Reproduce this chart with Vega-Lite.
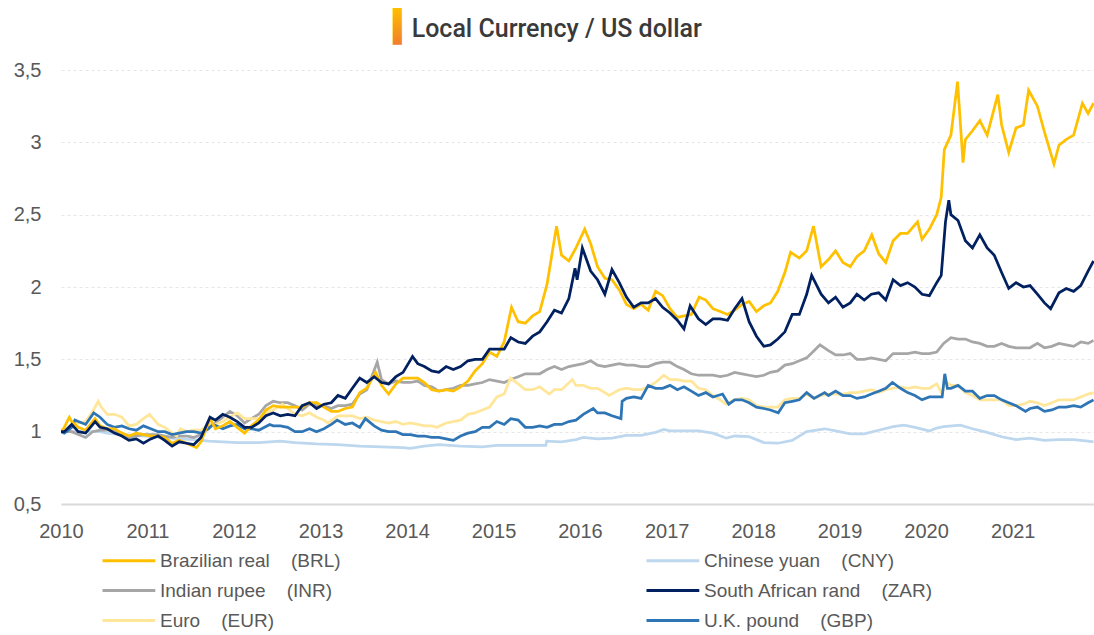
{
"$schema":"https://vega.github.io/schema/vega-lite/v6.json",
"width":1033,"height":434,
"autosize":{"type":"none"},
"padding":{"left":61,"top":70,"right":0,"bottom":131},
"background":"white",
"title":{"text":"▍","subtitle":"\u200b\u00a0\u00a0\u00a0Local Currency / US dollar","anchor":"start","frame":"group","dx":332,"offset":16,"font":"DejaVu Sans","fontSize":31,"fontWeight":"normal","color":{"value":{"gradient":"linear","x1":0,"y1":0,"x2":0,"y2":1,"stops":[{"offset":0,"color":"#FFC000"},{"offset":1,"color":"#F07D2E"}]}},"subtitleFont":"Roboto","subtitleFontSize":25,"subtitleFontWeight":500,"subtitleColor":"#3A3A3A","subtitlePadding":-27},
"data":{"values":[
{"s":"CNY","d":"2010-01-01","v":1.0},{"s":"CNY","d":"2010-06-15","v":1.0},{"s":"CNY","d":"2010-07-15","v":0.99},{"s":"CNY","d":"2010-09-15","v":0.98},{"s":"CNY","d":"2010-11-15","v":0.975},{"s":"CNY","d":"2011-01-15","v":0.965},{"s":"CNY","d":"2011-03-15","v":0.96},{"s":"CNY","d":"2011-05-15","v":0.95},{"s":"CNY","d":"2011-07-15","v":0.945},{"s":"CNY","d":"2011-09-15","v":0.935},{"s":"CNY","d":"2011-11-15","v":0.93},{"s":"CNY","d":"2012-01-15","v":0.925},{"s":"CNY","d":"2012-04-15","v":0.925},{"s":"CNY","d":"2012-07-15","v":0.935},{"s":"CNY","d":"2012-09-15","v":0.925},{"s":"CNY","d":"2012-12-15","v":0.915},{"s":"CNY","d":"2013-03-15","v":0.91},{"s":"CNY","d":"2013-06-15","v":0.9},{"s":"CNY","d":"2013-09-15","v":0.895},{"s":"CNY","d":"2013-12-15","v":0.89},{"s":"CNY","d":"2014-01-15","v":0.885},{"s":"CNY","d":"2014-03-15","v":0.9},{"s":"CNY","d":"2014-05-15","v":0.91},{"s":"CNY","d":"2014-08-15","v":0.9},{"s":"CNY","d":"2014-11-15","v":0.895},{"s":"CNY","d":"2015-01-15","v":0.905},{"s":"CNY","d":"2015-04-15","v":0.905},{"s":"CNY","d":"2015-08-10","v":0.905},{"s":"CNY","d":"2015-08-13","v":0.935},{"s":"CNY","d":"2015-10-15","v":0.93},{"s":"CNY","d":"2015-12-15","v":0.945},{"s":"CNY","d":"2016-01-15","v":0.96},{"s":"CNY","d":"2016-03-15","v":0.95},{"s":"CNY","d":"2016-05-15","v":0.955},{"s":"CNY","d":"2016-07-15","v":0.975},{"s":"CNY","d":"2016-09-15","v":0.975},{"s":"CNY","d":"2016-11-15","v":0.995},{"s":"CNY","d":"2016-12-20","v":1.015},{"s":"CNY","d":"2017-01-15","v":1.005},{"s":"CNY","d":"2017-03-15","v":1.005},{"s":"CNY","d":"2017-05-15","v":1.005},{"s":"CNY","d":"2017-07-15","v":0.99},{"s":"CNY","d":"2017-09-10","v":0.955},{"s":"CNY","d":"2017-10-15","v":0.97},{"s":"CNY","d":"2017-12-15","v":0.965},{"s":"CNY","d":"2018-02-15","v":0.925},{"s":"CNY","d":"2018-04-15","v":0.92},{"s":"CNY","d":"2018-06-15","v":0.94},{"s":"CNY","d":"2018-08-15","v":1.0},{"s":"CNY","d":"2018-10-30","v":1.02},{"s":"CNY","d":"2018-12-15","v":1.005},{"s":"CNY","d":"2019-02-15","v":0.985},{"s":"CNY","d":"2019-04-15","v":0.985},{"s":"CNY","d":"2019-06-15","v":1.01},{"s":"CNY","d":"2019-08-15","v":1.035},{"s":"CNY","d":"2019-09-30","v":1.045},{"s":"CNY","d":"2019-11-15","v":1.03},{"s":"CNY","d":"2020-01-15","v":1.005},{"s":"CNY","d":"2020-02-15","v":1.025},{"s":"CNY","d":"2020-03-15","v":1.035},{"s":"CNY","d":"2020-05-25","v":1.045},{"s":"CNY","d":"2020-07-15","v":1.02},{"s":"CNY","d":"2020-09-15","v":0.995},{"s":"CNY","d":"2020-11-15","v":0.965},{"s":"CNY","d":"2021-01-15","v":0.945},{"s":"CNY","d":"2021-03-15","v":0.955},{"s":"CNY","d":"2021-05-15","v":0.94},{"s":"CNY","d":"2021-07-15","v":0.945},{"s":"CNY","d":"2021-09-15","v":0.945},{"s":"CNY","d":"2021-11-15","v":0.935},{"s":"CNY","d":"2021-12-08","v":0.93},
{"s":"INR","d":"2010-01-01","v":1.0},{"s":"INR","d":"2010-01-15","v":1.0},{"s":"INR","d":"2010-02-15","v":1.0},{"s":"INR","d":"2010-03-15","v":0.98},{"s":"INR","d":"2010-04-15","v":0.96},{"s":"INR","d":"2010-05-15","v":1.0},{"s":"INR","d":"2010-06-15","v":1.01},{"s":"INR","d":"2010-07-15","v":1.01},{"s":"INR","d":"2010-08-15","v":1.01},{"s":"INR","d":"2010-09-15","v":0.99},{"s":"INR","d":"2010-10-15","v":0.96},{"s":"INR","d":"2010-11-15","v":0.97},{"s":"INR","d":"2010-12-15","v":0.98},{"s":"INR","d":"2011-01-15","v":0.98},{"s":"INR","d":"2011-02-15","v":0.98},{"s":"INR","d":"2011-03-15","v":0.97},{"s":"INR","d":"2011-04-15","v":0.96},{"s":"INR","d":"2011-05-15","v":0.97},{"s":"INR","d":"2011-06-15","v":0.97},{"s":"INR","d":"2011-07-15","v":0.96},{"s":"INR","d":"2011-08-15","v":0.98},{"s":"INR","d":"2011-09-15","v":1.03},{"s":"INR","d":"2011-10-15","v":1.06},{"s":"INR","d":"2011-11-15","v":1.1},{"s":"INR","d":"2011-12-15","v":1.14},{"s":"INR","d":"2012-01-15","v":1.11},{"s":"INR","d":"2012-02-15","v":1.06},{"s":"INR","d":"2012-03-15","v":1.09},{"s":"INR","d":"2012-04-15","v":1.12},{"s":"INR","d":"2012-05-15","v":1.18},{"s":"INR","d":"2012-06-15","v":1.21},{"s":"INR","d":"2012-07-15","v":1.2},{"s":"INR","d":"2012-08-15","v":1.2},{"s":"INR","d":"2012-09-15","v":1.18},{"s":"INR","d":"2012-10-15","v":1.15},{"s":"INR","d":"2012-11-15","v":1.19},{"s":"INR","d":"2012-12-15","v":1.18},{"s":"INR","d":"2013-01-15","v":1.18},{"s":"INR","d":"2013-02-15","v":1.16},{"s":"INR","d":"2013-03-15","v":1.18},{"s":"INR","d":"2013-04-15","v":1.18},{"s":"INR","d":"2013-05-15","v":1.19},{"s":"INR","d":"2013-06-15","v":1.26},{"s":"INR","d":"2013-07-15","v":1.29},{"s":"INR","d":"2013-08-28","v":1.48},{"s":"INR","d":"2013-09-15","v":1.36},{"s":"INR","d":"2013-10-15","v":1.33},{"s":"INR","d":"2013-11-15","v":1.35},{"s":"INR","d":"2013-12-15","v":1.34},{"s":"INR","d":"2014-01-15","v":1.34},{"s":"INR","d":"2014-02-15","v":1.35},{"s":"INR","d":"2014-03-15","v":1.32},{"s":"INR","d":"2014-04-15","v":1.31},{"s":"INR","d":"2014-05-15","v":1.28},{"s":"INR","d":"2014-06-15","v":1.29},{"s":"INR","d":"2014-07-15","v":1.3},{"s":"INR","d":"2014-08-15","v":1.32},{"s":"INR","d":"2014-09-15","v":1.32},{"s":"INR","d":"2014-10-15","v":1.33},{"s":"INR","d":"2014-11-15","v":1.34},{"s":"INR","d":"2014-12-15","v":1.36},{"s":"INR","d":"2015-01-15","v":1.35},{"s":"INR","d":"2015-02-15","v":1.34},{"s":"INR","d":"2015-03-15","v":1.36},{"s":"INR","d":"2015-04-15","v":1.38},{"s":"INR","d":"2015-05-15","v":1.4},{"s":"INR","d":"2015-06-15","v":1.4},{"s":"INR","d":"2015-07-15","v":1.4},{"s":"INR","d":"2015-08-15","v":1.43},{"s":"INR","d":"2015-09-15","v":1.45},{"s":"INR","d":"2015-10-15","v":1.43},{"s":"INR","d":"2015-11-15","v":1.45},{"s":"INR","d":"2015-12-15","v":1.46},{"s":"INR","d":"2016-01-15","v":1.47},{"s":"INR","d":"2016-02-15","v":1.49},{"s":"INR","d":"2016-03-15","v":1.46},{"s":"INR","d":"2016-04-15","v":1.45},{"s":"INR","d":"2016-05-15","v":1.46},{"s":"INR","d":"2016-06-15","v":1.47},{"s":"INR","d":"2016-07-15","v":1.46},{"s":"INR","d":"2016-08-15","v":1.46},{"s":"INR","d":"2016-09-15","v":1.45},{"s":"INR","d":"2016-10-15","v":1.45},{"s":"INR","d":"2016-11-15","v":1.47},{"s":"INR","d":"2016-12-15","v":1.48},{"s":"INR","d":"2017-01-15","v":1.48},{"s":"INR","d":"2017-02-15","v":1.45},{"s":"INR","d":"2017-03-15","v":1.43},{"s":"INR","d":"2017-04-15","v":1.4},{"s":"INR","d":"2017-05-15","v":1.39},{"s":"INR","d":"2017-06-15","v":1.39},{"s":"INR","d":"2017-07-15","v":1.39},{"s":"INR","d":"2017-08-15","v":1.38},{"s":"INR","d":"2017-09-15","v":1.39},{"s":"INR","d":"2017-10-15","v":1.41},{"s":"INR","d":"2017-11-15","v":1.4},{"s":"INR","d":"2017-12-15","v":1.39},{"s":"INR","d":"2018-01-15","v":1.38},{"s":"INR","d":"2018-02-15","v":1.39},{"s":"INR","d":"2018-03-15","v":1.41},{"s":"INR","d":"2018-04-15","v":1.42},{"s":"INR","d":"2018-05-15","v":1.46},{"s":"INR","d":"2018-06-15","v":1.47},{"s":"INR","d":"2018-07-15","v":1.49},{"s":"INR","d":"2018-08-15","v":1.51},{"s":"INR","d":"2018-09-15","v":1.56},{"s":"INR","d":"2018-10-10","v":1.6},{"s":"INR","d":"2018-11-15","v":1.56},{"s":"INR","d":"2018-12-15","v":1.53},{"s":"INR","d":"2019-01-15","v":1.53},{"s":"INR","d":"2019-02-15","v":1.54},{"s":"INR","d":"2019-03-15","v":1.5},{"s":"INR","d":"2019-04-15","v":1.5},{"s":"INR","d":"2019-05-15","v":1.51},{"s":"INR","d":"2019-06-15","v":1.5},{"s":"INR","d":"2019-07-15","v":1.49},{"s":"INR","d":"2019-08-15","v":1.54},{"s":"INR","d":"2019-09-15","v":1.54},{"s":"INR","d":"2019-10-15","v":1.54},{"s":"INR","d":"2019-11-15","v":1.55},{"s":"INR","d":"2019-12-15","v":1.54},{"s":"INR","d":"2020-01-15","v":1.54},{"s":"INR","d":"2020-02-15","v":1.55},{"s":"INR","d":"2020-03-15","v":1.61},{"s":"INR","d":"2020-04-15","v":1.65},{"s":"INR","d":"2020-05-15","v":1.64},{"s":"INR","d":"2020-06-15","v":1.64},{"s":"INR","d":"2020-07-15","v":1.62},{"s":"INR","d":"2020-08-15","v":1.61},{"s":"INR","d":"2020-09-15","v":1.59},{"s":"INR","d":"2020-10-15","v":1.59},{"s":"INR","d":"2020-11-15","v":1.61},{"s":"INR","d":"2020-12-15","v":1.59},{"s":"INR","d":"2021-01-15","v":1.58},{"s":"INR","d":"2021-02-15","v":1.58},{"s":"INR","d":"2021-03-15","v":1.58},{"s":"INR","d":"2021-04-15","v":1.61},{"s":"INR","d":"2021-05-15","v":1.58},{"s":"INR","d":"2021-06-15","v":1.59},{"s":"INR","d":"2021-07-15","v":1.61},{"s":"INR","d":"2021-08-15","v":1.6},{"s":"INR","d":"2021-09-15","v":1.59},{"s":"INR","d":"2021-10-15","v":1.62},{"s":"INR","d":"2021-11-15","v":1.61},{"s":"INR","d":"2021-12-08","v":1.63},
{"s":"EUR","d":"2010-01-01","v":1.0},{"s":"EUR","d":"2010-01-15","v":1.0},{"s":"EUR","d":"2010-02-15","v":1.05},{"s":"EUR","d":"2010-03-15","v":1.06},{"s":"EUR","d":"2010-04-15","v":1.07},{"s":"EUR","d":"2010-05-15","v":1.14},{"s":"EUR","d":"2010-06-07","v":1.21},{"s":"EUR","d":"2010-06-20","v":1.17},{"s":"EUR","d":"2010-07-15","v":1.12},{"s":"EUR","d":"2010-08-15","v":1.12},{"s":"EUR","d":"2010-09-15","v":1.1},{"s":"EUR","d":"2010-10-15","v":1.04},{"s":"EUR","d":"2010-11-15","v":1.05},{"s":"EUR","d":"2010-12-15","v":1.09},{"s":"EUR","d":"2011-01-10","v":1.12},{"s":"EUR","d":"2011-02-15","v":1.05},{"s":"EUR","d":"2011-03-15","v":1.03},{"s":"EUR","d":"2011-04-15","v":0.99},{"s":"EUR","d":"2011-05-04","v":0.97},{"s":"EUR","d":"2011-05-20","v":1.02},{"s":"EUR","d":"2011-06-15","v":1.0},{"s":"EUR","d":"2011-07-15","v":1.01},{"s":"EUR","d":"2011-08-15","v":1.01},{"s":"EUR","d":"2011-09-15","v":1.05},{"s":"EUR","d":"2011-10-15","v":1.05},{"s":"EUR","d":"2011-11-15","v":1.07},{"s":"EUR","d":"2011-12-15","v":1.1},{"s":"EUR","d":"2012-01-15","v":1.13},{"s":"EUR","d":"2012-02-15","v":1.09},{"s":"EUR","d":"2012-03-15","v":1.09},{"s":"EUR","d":"2012-04-15","v":1.09},{"s":"EUR","d":"2012-05-15","v":1.13},{"s":"EUR","d":"2012-06-15","v":1.15},{"s":"EUR","d":"2012-07-24","v":1.19},{"s":"EUR","d":"2012-08-15","v":1.16},{"s":"EUR","d":"2012-09-15","v":1.12},{"s":"EUR","d":"2012-10-15","v":1.11},{"s":"EUR","d":"2012-11-15","v":1.13},{"s":"EUR","d":"2012-12-15","v":1.1},{"s":"EUR","d":"2013-01-15","v":1.08},{"s":"EUR","d":"2013-02-01","v":1.06},{"s":"EUR","d":"2013-03-15","v":1.11},{"s":"EUR","d":"2013-04-15","v":1.11},{"s":"EUR","d":"2013-05-15","v":1.11},{"s":"EUR","d":"2013-06-15","v":1.09},{"s":"EUR","d":"2013-07-15","v":1.1},{"s":"EUR","d":"2013-08-15","v":1.08},{"s":"EUR","d":"2013-09-15","v":1.07},{"s":"EUR","d":"2013-10-15","v":1.06},{"s":"EUR","d":"2013-11-15","v":1.07},{"s":"EUR","d":"2013-12-15","v":1.05},{"s":"EUR","d":"2014-01-15","v":1.06},{"s":"EUR","d":"2014-02-15","v":1.05},{"s":"EUR","d":"2014-03-15","v":1.04},{"s":"EUR","d":"2014-04-15","v":1.04},{"s":"EUR","d":"2014-05-08","v":1.03},{"s":"EUR","d":"2014-06-15","v":1.06},{"s":"EUR","d":"2014-07-15","v":1.07},{"s":"EUR","d":"2014-08-15","v":1.08},{"s":"EUR","d":"2014-09-15","v":1.12},{"s":"EUR","d":"2014-10-15","v":1.13},{"s":"EUR","d":"2014-11-15","v":1.15},{"s":"EUR","d":"2014-12-15","v":1.17},{"s":"EUR","d":"2015-01-15","v":1.24},{"s":"EUR","d":"2015-02-15","v":1.26},{"s":"EUR","d":"2015-03-13","v":1.37},{"s":"EUR","d":"2015-04-15","v":1.33},{"s":"EUR","d":"2015-05-15","v":1.29},{"s":"EUR","d":"2015-06-15","v":1.29},{"s":"EUR","d":"2015-07-15","v":1.31},{"s":"EUR","d":"2015-08-24","v":1.26},{"s":"EUR","d":"2015-09-15","v":1.29},{"s":"EUR","d":"2015-10-15","v":1.29},{"s":"EUR","d":"2015-11-30","v":1.36},{"s":"EUR","d":"2015-12-15","v":1.32},{"s":"EUR","d":"2016-01-15","v":1.32},{"s":"EUR","d":"2016-02-15","v":1.3},{"s":"EUR","d":"2016-03-15","v":1.3},{"s":"EUR","d":"2016-04-15","v":1.27},{"s":"EUR","d":"2016-05-03","v":1.25},{"s":"EUR","d":"2016-06-15","v":1.29},{"s":"EUR","d":"2016-07-15","v":1.3},{"s":"EUR","d":"2016-08-15","v":1.29},{"s":"EUR","d":"2016-09-15","v":1.29},{"s":"EUR","d":"2016-10-15","v":1.31},{"s":"EUR","d":"2016-11-15","v":1.34},{"s":"EUR","d":"2016-12-20","v":1.39},{"s":"EUR","d":"2017-01-15","v":1.36},{"s":"EUR","d":"2017-02-15","v":1.36},{"s":"EUR","d":"2017-03-15","v":1.35},{"s":"EUR","d":"2017-04-15","v":1.35},{"s":"EUR","d":"2017-05-15","v":1.3},{"s":"EUR","d":"2017-06-15","v":1.29},{"s":"EUR","d":"2017-07-15","v":1.25},{"s":"EUR","d":"2017-08-15","v":1.22},{"s":"EUR","d":"2017-09-08","v":1.19},{"s":"EUR","d":"2017-10-15","v":1.22},{"s":"EUR","d":"2017-11-15","v":1.23},{"s":"EUR","d":"2017-12-15","v":1.22},{"s":"EUR","d":"2018-01-15","v":1.18},{"s":"EUR","d":"2018-02-15","v":1.17},{"s":"EUR","d":"2018-03-15","v":1.17},{"s":"EUR","d":"2018-04-15","v":1.17},{"s":"EUR","d":"2018-05-15","v":1.22},{"s":"EUR","d":"2018-06-15","v":1.23},{"s":"EUR","d":"2018-07-15","v":1.23},{"s":"EUR","d":"2018-08-15","v":1.26},{"s":"EUR","d":"2018-09-15","v":1.23},{"s":"EUR","d":"2018-10-15","v":1.25},{"s":"EUR","d":"2018-11-15","v":1.26},{"s":"EUR","d":"2018-12-15","v":1.26},{"s":"EUR","d":"2019-01-15","v":1.26},{"s":"EUR","d":"2019-02-15","v":1.27},{"s":"EUR","d":"2019-03-15","v":1.27},{"s":"EUR","d":"2019-04-15","v":1.28},{"s":"EUR","d":"2019-05-15","v":1.29},{"s":"EUR","d":"2019-06-15","v":1.27},{"s":"EUR","d":"2019-07-15","v":1.29},{"s":"EUR","d":"2019-08-15","v":1.3},{"s":"EUR","d":"2019-09-15","v":1.31},{"s":"EUR","d":"2019-10-15","v":1.3},{"s":"EUR","d":"2019-11-15","v":1.31},{"s":"EUR","d":"2019-12-15","v":1.3},{"s":"EUR","d":"2020-01-15","v":1.3},{"s":"EUR","d":"2020-02-15","v":1.33},{"s":"EUR","d":"2020-03-09","v":1.26},{"s":"EUR","d":"2020-03-20","v":1.35},{"s":"EUR","d":"2020-04-15","v":1.32},{"s":"EUR","d":"2020-05-15","v":1.32},{"s":"EUR","d":"2020-06-15","v":1.27},{"s":"EUR","d":"2020-07-15","v":1.25},{"s":"EUR","d":"2020-08-15","v":1.22},{"s":"EUR","d":"2020-09-15","v":1.22},{"s":"EUR","d":"2020-10-15","v":1.22},{"s":"EUR","d":"2020-11-15","v":1.22},{"s":"EUR","d":"2020-12-15","v":1.18},{"s":"EUR","d":"2021-01-15","v":1.18},{"s":"EUR","d":"2021-02-15","v":1.19},{"s":"EUR","d":"2021-03-15","v":1.21},{"s":"EUR","d":"2021-04-15","v":1.2},{"s":"EUR","d":"2021-05-15","v":1.18},{"s":"EUR","d":"2021-06-15","v":1.2},{"s":"EUR","d":"2021-07-15","v":1.22},{"s":"EUR","d":"2021-08-15","v":1.22},{"s":"EUR","d":"2021-09-15","v":1.22},{"s":"EUR","d":"2021-10-15","v":1.24},{"s":"EUR","d":"2021-11-15","v":1.26},{"s":"EUR","d":"2021-12-08","v":1.27},
{"s":"GBP","d":"2010-01-01","v":1.0},{"s":"GBP","d":"2010-01-15","v":0.99},{"s":"GBP","d":"2010-02-15","v":1.03},{"s":"GBP","d":"2010-03-01","v":1.08},{"s":"GBP","d":"2010-03-15","v":1.07},{"s":"GBP","d":"2010-04-15","v":1.05},{"s":"GBP","d":"2010-05-19","v":1.13},{"s":"GBP","d":"2010-06-15","v":1.1},{"s":"GBP","d":"2010-07-15","v":1.05},{"s":"GBP","d":"2010-08-15","v":1.03},{"s":"GBP","d":"2010-09-15","v":1.04},{"s":"GBP","d":"2010-10-15","v":1.02},{"s":"GBP","d":"2010-11-15","v":1.01},{"s":"GBP","d":"2010-12-15","v":1.04},{"s":"GBP","d":"2011-01-15","v":1.02},{"s":"GBP","d":"2011-02-15","v":1.0},{"s":"GBP","d":"2011-03-15","v":1.0},{"s":"GBP","d":"2011-04-15","v":0.98},{"s":"GBP","d":"2011-05-15","v":0.99},{"s":"GBP","d":"2011-06-15","v":1.0},{"s":"GBP","d":"2011-07-15","v":1.0},{"s":"GBP","d":"2011-08-15","v":0.99},{"s":"GBP","d":"2011-09-15","v":1.02},{"s":"GBP","d":"2011-10-05","v":1.05},{"s":"GBP","d":"2011-11-15","v":1.02},{"s":"GBP","d":"2011-12-15","v":1.04},{"s":"GBP","d":"2012-01-15","v":1.05},{"s":"GBP","d":"2012-02-15","v":1.02},{"s":"GBP","d":"2012-03-15","v":1.02},{"s":"GBP","d":"2012-04-15","v":1.01},{"s":"GBP","d":"2012-05-31","v":1.05},{"s":"GBP","d":"2012-06-15","v":1.04},{"s":"GBP","d":"2012-07-15","v":1.04},{"s":"GBP","d":"2012-08-15","v":1.03},{"s":"GBP","d":"2012-09-15","v":1.0},{"s":"GBP","d":"2012-10-15","v":1.0},{"s":"GBP","d":"2012-11-15","v":1.02},{"s":"GBP","d":"2012-12-15","v":1.0},{"s":"GBP","d":"2013-01-15","v":1.02},{"s":"GBP","d":"2013-02-15","v":1.05},{"s":"GBP","d":"2013-03-12","v":1.08},{"s":"GBP","d":"2013-04-15","v":1.05},{"s":"GBP","d":"2013-05-15","v":1.06},{"s":"GBP","d":"2013-06-15","v":1.03},{"s":"GBP","d":"2013-07-09","v":1.09},{"s":"GBP","d":"2013-08-15","v":1.04},{"s":"GBP","d":"2013-09-15","v":1.01},{"s":"GBP","d":"2013-10-15","v":1.0},{"s":"GBP","d":"2013-11-15","v":1.0},{"s":"GBP","d":"2013-12-15","v":0.98},{"s":"GBP","d":"2014-01-15","v":0.98},{"s":"GBP","d":"2014-02-15","v":0.97},{"s":"GBP","d":"2014-03-15","v":0.97},{"s":"GBP","d":"2014-04-15","v":0.96},{"s":"GBP","d":"2014-05-15","v":0.96},{"s":"GBP","d":"2014-06-15","v":0.95},{"s":"GBP","d":"2014-07-15","v":0.94},{"s":"GBP","d":"2014-08-15","v":0.97},{"s":"GBP","d":"2014-09-15","v":0.99},{"s":"GBP","d":"2014-10-15","v":1.0},{"s":"GBP","d":"2014-11-15","v":1.03},{"s":"GBP","d":"2014-12-15","v":1.03},{"s":"GBP","d":"2015-01-15","v":1.07},{"s":"GBP","d":"2015-02-15","v":1.05},{"s":"GBP","d":"2015-03-15","v":1.09},{"s":"GBP","d":"2015-04-15","v":1.08},{"s":"GBP","d":"2015-05-15","v":1.03},{"s":"GBP","d":"2015-06-15","v":1.03},{"s":"GBP","d":"2015-07-15","v":1.04},{"s":"GBP","d":"2015-08-15","v":1.03},{"s":"GBP","d":"2015-09-15","v":1.05},{"s":"GBP","d":"2015-10-15","v":1.05},{"s":"GBP","d":"2015-11-15","v":1.07},{"s":"GBP","d":"2015-12-15","v":1.08},{"s":"GBP","d":"2016-01-15","v":1.12},{"s":"GBP","d":"2016-02-26","v":1.16},{"s":"GBP","d":"2016-03-15","v":1.13},{"s":"GBP","d":"2016-04-15","v":1.13},{"s":"GBP","d":"2016-05-15","v":1.11},{"s":"GBP","d":"2016-06-22","v":1.09},{"s":"GBP","d":"2016-06-27","v":1.21},{"s":"GBP","d":"2016-07-15","v":1.23},{"s":"GBP","d":"2016-08-15","v":1.24},{"s":"GBP","d":"2016-09-15","v":1.23},{"s":"GBP","d":"2016-10-15","v":1.32},{"s":"GBP","d":"2016-11-15","v":1.3},{"s":"GBP","d":"2016-12-15","v":1.3},{"s":"GBP","d":"2017-01-15","v":1.32},{"s":"GBP","d":"2017-02-15","v":1.29},{"s":"GBP","d":"2017-03-15","v":1.31},{"s":"GBP","d":"2017-04-15","v":1.28},{"s":"GBP","d":"2017-05-15","v":1.25},{"s":"GBP","d":"2017-06-15","v":1.27},{"s":"GBP","d":"2017-07-15","v":1.24},{"s":"GBP","d":"2017-08-25","v":1.26},{"s":"GBP","d":"2017-09-20","v":1.19},{"s":"GBP","d":"2017-10-15","v":1.22},{"s":"GBP","d":"2017-11-15","v":1.22},{"s":"GBP","d":"2017-12-15","v":1.2},{"s":"GBP","d":"2018-01-15","v":1.17},{"s":"GBP","d":"2018-02-15","v":1.16},{"s":"GBP","d":"2018-03-15","v":1.15},{"s":"GBP","d":"2018-04-17","v":1.13},{"s":"GBP","d":"2018-05-15","v":1.2},{"s":"GBP","d":"2018-06-15","v":1.21},{"s":"GBP","d":"2018-07-15","v":1.22},{"s":"GBP","d":"2018-08-15","v":1.27},{"s":"GBP","d":"2018-09-15","v":1.23},{"s":"GBP","d":"2018-10-30","v":1.27},{"s":"GBP","d":"2018-11-15","v":1.25},{"s":"GBP","d":"2018-12-15","v":1.28},{"s":"GBP","d":"2019-01-15","v":1.25},{"s":"GBP","d":"2019-02-15","v":1.25},{"s":"GBP","d":"2019-03-15","v":1.23},{"s":"GBP","d":"2019-04-15","v":1.24},{"s":"GBP","d":"2019-05-15","v":1.26},{"s":"GBP","d":"2019-06-15","v":1.28},{"s":"GBP","d":"2019-07-15","v":1.3},{"s":"GBP","d":"2019-08-12","v":1.34},{"s":"GBP","d":"2019-09-15","v":1.3},{"s":"GBP","d":"2019-10-15","v":1.27},{"s":"GBP","d":"2019-11-15","v":1.25},{"s":"GBP","d":"2019-12-15","v":1.22},{"s":"GBP","d":"2020-01-15","v":1.24},{"s":"GBP","d":"2020-02-15","v":1.24},{"s":"GBP","d":"2020-03-09","v":1.24},{"s":"GBP","d":"2020-03-20","v":1.4},{"s":"GBP","d":"2020-03-31","v":1.3},{"s":"GBP","d":"2020-04-15","v":1.3},{"s":"GBP","d":"2020-05-15","v":1.32},{"s":"GBP","d":"2020-06-15","v":1.28},{"s":"GBP","d":"2020-07-15","v":1.28},{"s":"GBP","d":"2020-08-15","v":1.23},{"s":"GBP","d":"2020-09-15","v":1.25},{"s":"GBP","d":"2020-10-15","v":1.25},{"s":"GBP","d":"2020-11-15","v":1.22},{"s":"GBP","d":"2020-12-15","v":1.2},{"s":"GBP","d":"2021-01-15","v":1.18},{"s":"GBP","d":"2021-02-24","v":1.14},{"s":"GBP","d":"2021-03-15","v":1.16},{"s":"GBP","d":"2021-04-15","v":1.17},{"s":"GBP","d":"2021-05-15","v":1.14},{"s":"GBP","d":"2021-06-15","v":1.15},{"s":"GBP","d":"2021-07-15","v":1.17},{"s":"GBP","d":"2021-08-15","v":1.17},{"s":"GBP","d":"2021-09-15","v":1.18},{"s":"GBP","d":"2021-10-15","v":1.17},{"s":"GBP","d":"2021-11-15","v":1.2},{"s":"GBP","d":"2021-12-08","v":1.22},
{"s":"BRL","d":"2010-01-01","v":1.0},{"s":"BRL","d":"2010-01-15","v":1.03},{"s":"BRL","d":"2010-02-05","v":1.1},{"s":"BRL","d":"2010-02-15","v":1.07},{"s":"BRL","d":"2010-03-15","v":1.03},{"s":"BRL","d":"2010-04-15","v":1.01},{"s":"BRL","d":"2010-05-25","v":1.09},{"s":"BRL","d":"2010-06-15","v":1.04},{"s":"BRL","d":"2010-07-15","v":1.02},{"s":"BRL","d":"2010-08-15","v":1.02},{"s":"BRL","d":"2010-09-15","v":0.99},{"s":"BRL","d":"2010-10-15","v":0.97},{"s":"BRL","d":"2010-11-15","v":0.99},{"s":"BRL","d":"2010-12-15","v":0.98},{"s":"BRL","d":"2011-01-15","v":0.97},{"s":"BRL","d":"2011-02-15","v":0.97},{"s":"BRL","d":"2011-03-15","v":0.96},{"s":"BRL","d":"2011-04-15","v":0.92},{"s":"BRL","d":"2011-05-15","v":0.94},{"s":"BRL","d":"2011-06-15","v":0.92},{"s":"BRL","d":"2011-07-27","v":0.89},{"s":"BRL","d":"2011-08-15","v":0.93},{"s":"BRL","d":"2011-09-22","v":1.09},{"s":"BRL","d":"2011-10-15","v":1.02},{"s":"BRL","d":"2011-11-15","v":1.04},{"s":"BRL","d":"2011-12-15","v":1.07},{"s":"BRL","d":"2012-01-15","v":1.03},{"s":"BRL","d":"2012-02-15","v":0.99},{"s":"BRL","d":"2012-03-15","v":1.04},{"s":"BRL","d":"2012-04-15","v":1.08},{"s":"BRL","d":"2012-05-15","v":1.15},{"s":"BRL","d":"2012-06-15","v":1.18},{"s":"BRL","d":"2012-07-15","v":1.17},{"s":"BRL","d":"2012-08-15","v":1.17},{"s":"BRL","d":"2012-09-15","v":1.17},{"s":"BRL","d":"2012-10-15","v":1.17},{"s":"BRL","d":"2012-11-15","v":1.2},{"s":"BRL","d":"2012-12-15","v":1.2},{"s":"BRL","d":"2013-01-15","v":1.17},{"s":"BRL","d":"2013-02-15","v":1.14},{"s":"BRL","d":"2013-03-15","v":1.14},{"s":"BRL","d":"2013-04-15","v":1.16},{"s":"BRL","d":"2013-05-15","v":1.17},{"s":"BRL","d":"2013-06-15","v":1.27},{"s":"BRL","d":"2013-07-15","v":1.3},{"s":"BRL","d":"2013-08-21","v":1.41},{"s":"BRL","d":"2013-09-15","v":1.32},{"s":"BRL","d":"2013-10-15","v":1.26},{"s":"BRL","d":"2013-11-15","v":1.33},{"s":"BRL","d":"2013-12-15","v":1.37},{"s":"BRL","d":"2014-01-15","v":1.37},{"s":"BRL","d":"2014-02-15","v":1.37},{"s":"BRL","d":"2014-03-15","v":1.34},{"s":"BRL","d":"2014-04-15","v":1.29},{"s":"BRL","d":"2014-05-15","v":1.28},{"s":"BRL","d":"2014-06-15","v":1.29},{"s":"BRL","d":"2014-07-15","v":1.28},{"s":"BRL","d":"2014-08-15","v":1.31},{"s":"BRL","d":"2014-09-15","v":1.35},{"s":"BRL","d":"2014-10-15","v":1.42},{"s":"BRL","d":"2014-11-15","v":1.47},{"s":"BRL","d":"2014-12-15","v":1.55},{"s":"BRL","d":"2015-01-15","v":1.52},{"s":"BRL","d":"2015-02-15","v":1.62},{"s":"BRL","d":"2015-03-18","v":1.86},{"s":"BRL","d":"2015-04-15","v":1.76},{"s":"BRL","d":"2015-05-15","v":1.75},{"s":"BRL","d":"2015-06-15","v":1.8},{"s":"BRL","d":"2015-07-15","v":1.83},{"s":"BRL","d":"2015-08-15","v":2.02},{"s":"BRL","d":"2015-09-24","v":2.42},{"s":"BRL","d":"2015-10-15","v":2.22},{"s":"BRL","d":"2015-11-15","v":2.18},{"s":"BRL","d":"2015-12-15","v":2.27},{"s":"BRL","d":"2016-01-21","v":2.4},{"s":"BRL","d":"2016-02-15","v":2.3},{"s":"BRL","d":"2016-03-15","v":2.14},{"s":"BRL","d":"2016-04-15","v":2.06},{"s":"BRL","d":"2016-05-15","v":2.05},{"s":"BRL","d":"2016-06-15","v":1.98},{"s":"BRL","d":"2016-07-15","v":1.88},{"s":"BRL","d":"2016-08-15","v":1.85},{"s":"BRL","d":"2016-09-15","v":1.88},{"s":"BRL","d":"2016-10-15","v":1.84},{"s":"BRL","d":"2016-11-15","v":1.97},{"s":"BRL","d":"2016-12-15","v":1.94},{"s":"BRL","d":"2017-01-15","v":1.85},{"s":"BRL","d":"2017-02-15","v":1.79},{"s":"BRL","d":"2017-03-15","v":1.8},{"s":"BRL","d":"2017-04-15","v":1.81},{"s":"BRL","d":"2017-05-18","v":1.93},{"s":"BRL","d":"2017-06-15","v":1.91},{"s":"BRL","d":"2017-07-15","v":1.85},{"s":"BRL","d":"2017-08-15","v":1.83},{"s":"BRL","d":"2017-09-15","v":1.81},{"s":"BRL","d":"2017-10-15","v":1.84},{"s":"BRL","d":"2017-11-15","v":1.88},{"s":"BRL","d":"2017-12-15","v":1.9},{"s":"BRL","d":"2018-01-15","v":1.83},{"s":"BRL","d":"2018-02-15","v":1.87},{"s":"BRL","d":"2018-03-15","v":1.89},{"s":"BRL","d":"2018-04-15","v":1.97},{"s":"BRL","d":"2018-05-15","v":2.1},{"s":"BRL","d":"2018-06-08","v":2.24},{"s":"BRL","d":"2018-07-15","v":2.2},{"s":"BRL","d":"2018-08-15","v":2.25},{"s":"BRL","d":"2018-09-13","v":2.42},{"s":"BRL","d":"2018-10-15","v":2.14},{"s":"BRL","d":"2018-11-15","v":2.19},{"s":"BRL","d":"2018-12-15","v":2.25},{"s":"BRL","d":"2019-01-15","v":2.17},{"s":"BRL","d":"2019-02-15","v":2.14},{"s":"BRL","d":"2019-03-15","v":2.21},{"s":"BRL","d":"2019-04-15","v":2.25},{"s":"BRL","d":"2019-05-17","v":2.36},{"s":"BRL","d":"2019-06-15","v":2.23},{"s":"BRL","d":"2019-07-15","v":2.17},{"s":"BRL","d":"2019-08-15","v":2.32},{"s":"BRL","d":"2019-09-15","v":2.37},{"s":"BRL","d":"2019-10-15","v":2.37},{"s":"BRL","d":"2019-11-26","v":2.45},{"s":"BRL","d":"2019-12-15","v":2.33},{"s":"BRL","d":"2020-01-15","v":2.4},{"s":"BRL","d":"2020-02-15","v":2.5},{"s":"BRL","d":"2020-03-05","v":2.62},{"s":"BRL","d":"2020-03-18","v":2.95},{"s":"BRL","d":"2020-04-01","v":3.0},{"s":"BRL","d":"2020-04-15","v":3.05},{"s":"BRL","d":"2020-05-13","v":3.42},{"s":"BRL","d":"2020-06-05","v":2.86},{"s":"BRL","d":"2020-06-15","v":3.02},{"s":"BRL","d":"2020-07-15","v":3.08},{"s":"BRL","d":"2020-08-15","v":3.15},{"s":"BRL","d":"2020-09-15","v":3.05},{"s":"BRL","d":"2020-10-30","v":3.33},{"s":"BRL","d":"2020-11-15","v":3.12},{"s":"BRL","d":"2020-12-15","v":2.93},{"s":"BRL","d":"2021-01-15","v":3.1},{"s":"BRL","d":"2021-02-15","v":3.12},{"s":"BRL","d":"2021-03-09","v":3.36},{"s":"BRL","d":"2021-04-15","v":3.25},{"s":"BRL","d":"2021-05-15","v":3.07},{"s":"BRL","d":"2021-06-24","v":2.85},{"s":"BRL","d":"2021-07-15","v":2.98},{"s":"BRL","d":"2021-08-15","v":3.02},{"s":"BRL","d":"2021-09-15","v":3.05},{"s":"BRL","d":"2021-10-22","v":3.27},{"s":"BRL","d":"2021-11-15","v":3.2},{"s":"BRL","d":"2021-12-08","v":3.27},
{"s":"ZAR","d":"2010-01-01","v":1.0},{"s":"ZAR","d":"2010-01-15","v":1.0},{"s":"ZAR","d":"2010-02-15","v":1.05},{"s":"ZAR","d":"2010-03-15","v":1.0},{"s":"ZAR","d":"2010-04-15","v":0.99},{"s":"ZAR","d":"2010-05-25","v":1.07},{"s":"ZAR","d":"2010-06-15","v":1.03},{"s":"ZAR","d":"2010-07-15","v":1.02},{"s":"ZAR","d":"2010-08-15","v":0.99},{"s":"ZAR","d":"2010-09-15","v":0.97},{"s":"ZAR","d":"2010-10-15","v":0.94},{"s":"ZAR","d":"2010-11-15","v":0.95},{"s":"ZAR","d":"2010-12-15","v":0.92},{"s":"ZAR","d":"2011-01-15","v":0.95},{"s":"ZAR","d":"2011-02-15","v":0.97},{"s":"ZAR","d":"2011-03-15","v":0.94},{"s":"ZAR","d":"2011-04-15","v":0.9},{"s":"ZAR","d":"2011-05-15","v":0.93},{"s":"ZAR","d":"2011-06-15","v":0.92},{"s":"ZAR","d":"2011-07-15","v":0.91},{"s":"ZAR","d":"2011-08-15","v":0.96},{"s":"ZAR","d":"2011-09-22","v":1.1},{"s":"ZAR","d":"2011-10-15","v":1.08},{"s":"ZAR","d":"2011-11-15","v":1.12},{"s":"ZAR","d":"2011-12-15","v":1.1},{"s":"ZAR","d":"2012-01-15","v":1.07},{"s":"ZAR","d":"2012-02-15","v":1.03},{"s":"ZAR","d":"2012-03-15","v":1.03},{"s":"ZAR","d":"2012-04-15","v":1.06},{"s":"ZAR","d":"2012-05-15","v":1.11},{"s":"ZAR","d":"2012-06-15","v":1.13},{"s":"ZAR","d":"2012-07-15","v":1.11},{"s":"ZAR","d":"2012-08-15","v":1.12},{"s":"ZAR","d":"2012-09-15","v":1.11},{"s":"ZAR","d":"2012-10-15","v":1.18},{"s":"ZAR","d":"2012-11-15","v":1.2},{"s":"ZAR","d":"2012-12-15","v":1.16},{"s":"ZAR","d":"2013-01-15","v":1.19},{"s":"ZAR","d":"2013-02-15","v":1.2},{"s":"ZAR","d":"2013-03-15","v":1.25},{"s":"ZAR","d":"2013-04-15","v":1.23},{"s":"ZAR","d":"2013-05-15","v":1.3},{"s":"ZAR","d":"2013-06-15","v":1.37},{"s":"ZAR","d":"2013-07-15","v":1.34},{"s":"ZAR","d":"2013-08-15","v":1.38},{"s":"ZAR","d":"2013-09-15","v":1.34},{"s":"ZAR","d":"2013-10-15","v":1.33},{"s":"ZAR","d":"2013-11-15","v":1.38},{"s":"ZAR","d":"2013-12-15","v":1.41},{"s":"ZAR","d":"2014-01-24","v":1.52},{"s":"ZAR","d":"2014-02-15","v":1.47},{"s":"ZAR","d":"2014-03-15","v":1.45},{"s":"ZAR","d":"2014-04-15","v":1.42},{"s":"ZAR","d":"2014-05-15","v":1.41},{"s":"ZAR","d":"2014-06-15","v":1.45},{"s":"ZAR","d":"2014-07-15","v":1.43},{"s":"ZAR","d":"2014-08-15","v":1.45},{"s":"ZAR","d":"2014-09-15","v":1.49},{"s":"ZAR","d":"2014-10-15","v":1.5},{"s":"ZAR","d":"2014-11-15","v":1.5},{"s":"ZAR","d":"2014-12-15","v":1.57},{"s":"ZAR","d":"2015-01-15","v":1.57},{"s":"ZAR","d":"2015-02-15","v":1.57},{"s":"ZAR","d":"2015-03-15","v":1.65},{"s":"ZAR","d":"2015-04-15","v":1.62},{"s":"ZAR","d":"2015-05-15","v":1.61},{"s":"ZAR","d":"2015-06-15","v":1.66},{"s":"ZAR","d":"2015-07-15","v":1.69},{"s":"ZAR","d":"2015-08-15","v":1.76},{"s":"ZAR","d":"2015-09-15","v":1.84},{"s":"ZAR","d":"2015-10-15","v":1.82},{"s":"ZAR","d":"2015-11-15","v":1.92},{"s":"ZAR","d":"2015-12-11","v":2.13},{"s":"ZAR","d":"2015-12-20","v":2.05},{"s":"ZAR","d":"2016-01-11","v":2.27},{"s":"ZAR","d":"2016-02-15","v":2.11},{"s":"ZAR","d":"2016-03-15","v":2.05},{"s":"ZAR","d":"2016-04-15","v":1.95},{"s":"ZAR","d":"2016-05-15","v":2.12},{"s":"ZAR","d":"2016-06-15","v":2.03},{"s":"ZAR","d":"2016-07-15","v":1.93},{"s":"ZAR","d":"2016-08-15","v":1.86},{"s":"ZAR","d":"2016-09-15","v":1.89},{"s":"ZAR","d":"2016-10-15","v":1.89},{"s":"ZAR","d":"2016-11-15","v":1.92},{"s":"ZAR","d":"2016-12-15","v":1.86},{"s":"ZAR","d":"2017-01-15","v":1.82},{"s":"ZAR","d":"2017-02-15","v":1.77},{"s":"ZAR","d":"2017-03-15","v":1.71},{"s":"ZAR","d":"2017-04-10","v":1.87},{"s":"ZAR","d":"2017-05-15","v":1.78},{"s":"ZAR","d":"2017-06-15","v":1.74},{"s":"ZAR","d":"2017-07-15","v":1.78},{"s":"ZAR","d":"2017-08-15","v":1.78},{"s":"ZAR","d":"2017-09-15","v":1.77},{"s":"ZAR","d":"2017-10-15","v":1.85},{"s":"ZAR","d":"2017-11-15","v":1.92},{"s":"ZAR","d":"2017-12-15","v":1.76},{"s":"ZAR","d":"2018-01-15","v":1.66},{"s":"ZAR","d":"2018-02-15","v":1.59},{"s":"ZAR","d":"2018-03-15","v":1.6},{"s":"ZAR","d":"2018-04-15","v":1.64},{"s":"ZAR","d":"2018-05-15","v":1.69},{"s":"ZAR","d":"2018-06-15","v":1.81},{"s":"ZAR","d":"2018-07-15","v":1.81},{"s":"ZAR","d":"2018-08-15","v":1.95},{"s":"ZAR","d":"2018-09-05","v":2.08},{"s":"ZAR","d":"2018-10-15","v":1.95},{"s":"ZAR","d":"2018-11-15","v":1.89},{"s":"ZAR","d":"2018-12-15","v":1.93},{"s":"ZAR","d":"2019-01-15","v":1.86},{"s":"ZAR","d":"2019-02-15","v":1.89},{"s":"ZAR","d":"2019-03-15","v":1.95},{"s":"ZAR","d":"2019-04-15","v":1.91},{"s":"ZAR","d":"2019-05-15","v":1.95},{"s":"ZAR","d":"2019-06-15","v":1.96},{"s":"ZAR","d":"2019-07-15","v":1.91},{"s":"ZAR","d":"2019-08-15","v":2.05},{"s":"ZAR","d":"2019-09-15","v":2.01},{"s":"ZAR","d":"2019-10-15","v":2.03},{"s":"ZAR","d":"2019-11-15","v":2.0},{"s":"ZAR","d":"2019-12-15","v":1.95},{"s":"ZAR","d":"2020-01-15","v":1.94},{"s":"ZAR","d":"2020-02-15","v":2.03},{"s":"ZAR","d":"2020-03-05","v":2.08},{"s":"ZAR","d":"2020-03-23","v":2.45},{"s":"ZAR","d":"2020-04-06","v":2.6},{"s":"ZAR","d":"2020-04-15","v":2.5},{"s":"ZAR","d":"2020-05-15","v":2.46},{"s":"ZAR","d":"2020-06-15","v":2.32},{"s":"ZAR","d":"2020-07-15","v":2.27},{"s":"ZAR","d":"2020-08-15","v":2.36},{"s":"ZAR","d":"2020-09-15","v":2.27},{"s":"ZAR","d":"2020-10-15","v":2.22},{"s":"ZAR","d":"2020-11-15","v":2.1},{"s":"ZAR","d":"2020-12-15","v":1.99},{"s":"ZAR","d":"2021-01-15","v":2.03},{"s":"ZAR","d":"2021-02-15","v":2.0},{"s":"ZAR","d":"2021-03-15","v":2.01},{"s":"ZAR","d":"2021-04-15","v":1.95},{"s":"ZAR","d":"2021-05-15","v":1.89},{"s":"ZAR","d":"2021-06-10","v":1.85},{"s":"ZAR","d":"2021-07-15","v":1.96},{"s":"ZAR","d":"2021-08-15","v":1.99},{"s":"ZAR","d":"2021-09-15","v":1.97},{"s":"ZAR","d":"2021-10-15","v":2.01},{"s":"ZAR","d":"2021-11-15","v":2.11},{"s":"ZAR","d":"2021-12-08","v":2.18}
]},
"mark":{"type":"line","strokeWidth":2.75,"clip":true},
"encoding":{
"x":{"field":"d","type":"temporal","scale":{"type":"utc","domain":[{"year":2010,"month":1,"date":1,"utc":true},{"year":2021,"month":12,"date":10,"utc":true}]},
"axis":{"title":null,"format":"%Y","tickCount":{"interval":"year","step":1},"ticks":false,"grid":false,"domainColor":"#D9D9D9","domainWidth":2,"labelFont":"Liberation Sans","labelFontSize":20,"labelColor":"#595959","labelPadding":17,"labelFlush":false,"labelOverlap":false}},
"y":{"field":"v","type":"quantitative","scale":{"domain":[0.5,3.5],"nice":false,"zero":false},
"axis":{"title":null,"values":[0.5,1,1.5,2,2.5,3,3.5],"labelExpr":"replace(format(datum.value,'~g'),'.',',')","ticks":false,"domain":false,"grid":true,"gridColor":"#E6E6E6","gridDash":[3,3],"gridWidth":1,"labelFont":"Liberation Sans","labelFontSize":20,"labelColor":"#595959","labelPadding":20}},
"color":{"field":"s","type":"nominal","scale":{"domain":["BRL","CNY","INR","ZAR","EUR","GBP"],"range":["#FFC000","#BDD7EE","#A6A6A6","#002060","#FFE699","#2E75B6"]},
"legend":{"title":null,"orient":"none","legendX":40,"legendY":477,"columns":2,"direction":"horizontal","symbolType":"M-1,0H3.4","symbolSize":576,"symbolStrokeWidth":3,"symbolFillColor":"transparent","rowPadding":6,"columnPadding":299,"labelOffset":32,"labelFont":"Liberation Sans","labelFontSize":19,"labelColor":"#595959","labelLimit":400,"padding":0,
"labelExpr":"datum.value=='BRL'?'Brazilian real\u00a0\u00a0\u00a0\u00a0(BRL)':datum.value=='CNY'?'Chinese yuan\u00a0\u00a0\u00a0\u00a0(CNY)':datum.value=='INR'?'Indian rupee\u00a0\u00a0\u00a0\u00a0(INR)':datum.value=='ZAR'?'South African rand\u00a0\u00a0\u00a0\u00a0(ZAR)':datum.value=='EUR'?'Euro\u00a0\u00a0\u00a0\u00a0(EUR)':'U.K. pound\u00a0\u00a0\u00a0\u00a0(GBP)'"}}
},
"config":{"view":{"stroke":null},"font":"Liberation Sans"}
}
